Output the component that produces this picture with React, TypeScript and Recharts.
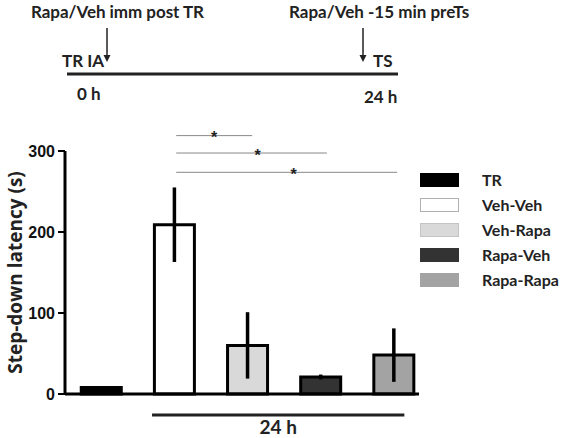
import React from 'react';
import { BarChart, Bar, XAxis, YAxis, Cell, ErrorBar, ReferenceLine } from 'recharts';

const groups = ['TR', 'Veh-Veh', 'Veh-Rapa', 'Rapa-Veh', 'Rapa-Rapa'];
const latency = [8, 209, 60, 21, 48];
const sem = [1, 46, 41, 3, 33];
const fills = ['#000000', '#ffffff', '#d9d9d9', '#333333', '#a3a3a3'];
const swatchBorders = ['#000000', '#b0b0b0', '#c4c4c4', '#333333', '#a3a3a3'];
const yTicks = [0, 100, 200, 300];

// significance brackets: from group to group (x in category units), height in seconds
const sigFrom = [1.03, 1.03, 1.03];
const sigTo = [2.07, 3.09, 4.05];
const sigY = [319, 297.5, 273.7];
const sigDx = [0, 6, 7];

const data = groups.map((g, i) => ({ name: g, x: i, value: latency[i], err: sem[i] }));

const FONT = 'Lato, "Open Sans", sans-serif';

function LegendBox() {
  return (
    <div
      style={{
        position: 'absolute',
        left: 420,
        top: 167,
        fontFamily: FONT,
        fontWeight: 700,
        fontSize: 16,
        color: '#222',
      }}
    >
      {groups.map((g, i) => (
        <div key={g} style={{ display: 'flex', alignItems: 'center', height: 25 }}>
          <div style={{ width: 37, height: 12, background: fills[i], border: `1px solid ${swatchBorders[i]}` }} />
          <span style={{ marginLeft: 23 }}>{g}</span>
        </div>
      ))}
    </div>
  );
}

function Timeline() {
  const t = { fontFamily: FONT, fontWeight: 700, fontSize: 17, fill: '#222' } as React.CSSProperties;
  return (
    <svg width={566} height={110} style={{ position: 'absolute', left: 0, top: 0 }}>
      <text x={31} y={18} style={t} textLength={173}>Rapa/Veh imm post TR</text>
      <text x={289} y={18} style={t}>Rapa/Veh -15 min preTs</text>
      <line x1={107} y1={28} x2={107} y2={56} stroke="#222" strokeWidth={1.5} />
      <polygon points="103.5,55 110.5,55 107,62" fill="#222" />
      <line x1={363} y1={28} x2={363} y2={56} stroke="#222" strokeWidth={1.5} />
      <polygon points="359.5,55 366.5,55 363,62" fill="#222" />
      <text x={62} y={67} style={t}>TR IA</text>
      <text x={373} y={67} style={t}>TS</text>
      <line x1={67} y1={74} x2={398} y2={74} stroke="#222" strokeWidth={3} />
      <text x={77} y={100} style={t}>0 h</text>
      <text x={364} y={103} style={t}>24 h</text>
    </svg>
  );
}

export default function App() {
  return (
    <div style={{ position: 'absolute', left: 0, top: 0, width: 566, height: 438, background: '#fff' }}>
      <Timeline />
      <LegendBox />
      <BarChart
        width={566}
        height={438}
        data={data}
        margin={{ top: 151, right: 147, bottom: 14, left: 0 }}
        style={{ position: 'absolute', left: 0, top: 0 }}
      >
        <XAxis
          dataKey="x"
          type="number"
          domain={[-0.49, 4.35]}
          allowDataOverflow
          tick={false}
          tickLine={false}
          axisLine={{ stroke: '#000', strokeWidth: 3 }}
          height={30}
        />
        <YAxis
          domain={[0, 300]}
          ticks={yTicks}
          width={65}
          tickSize={7}
          tickMargin={3}
          tickLine={{ stroke: '#000', strokeWidth: 2 }}
          axisLine={{ stroke: '#000', strokeWidth: 3 }}
          tick={{ fill: '#111', fontFamily: '"Liberation Sans", Arial, sans-serif', fontWeight: 700, fontSize: 16 }}
          label={{
            value: 'Step-down latency (s)',
            angle: -90,
            position: 'insideLeft',
            dx: 10,
            style: { textAnchor: 'middle', fill: '#222', fontFamily: '"Open Sans", sans-serif', fontWeight: 700, fontSize: 19 },
          }}
        />
        {sigY.map((y, i) => (
          <ReferenceLine
            key={i}
            segment={[{ x: sigFrom[i], y }, { x: sigTo[i], y }]}
            stroke="#888"
            strokeWidth={1}
            ifOverflow="visible"
            label={{
              value: '*',
              position: 'center',
              dx: sigDx[i],
              dy: 2,
              style: { fill: '#222', fontSize: 16, fontWeight: 700, fontFamily: '"Liberation Sans", Arial, sans-serif' },
            }}
          />
        ))}
        <ReferenceLine
          segment={[{ x: 0.7, y: -26 }, { x: 4.15, y: -26 }]}
          stroke="#222"
          strokeWidth={3}
          ifOverflow="visible"
          label={{ value: '24 h', position: 'bottom', offset: 5, fill: '#222', fontFamily: FONT, fontWeight: 700, fontSize: 19 }}
        />
        <Bar dataKey="value" barSize={40} stroke="#000" strokeWidth={3} isAnimationActive={false}>
          {data.map((d, i) => (
            <Cell key={d.name} fill={fills[i]} />
          ))}
          <ErrorBar dataKey="err" direction="y" width={0} stroke="#000" strokeWidth={3.5} />
        </Bar>
      </BarChart>
    </div>
  );
}
